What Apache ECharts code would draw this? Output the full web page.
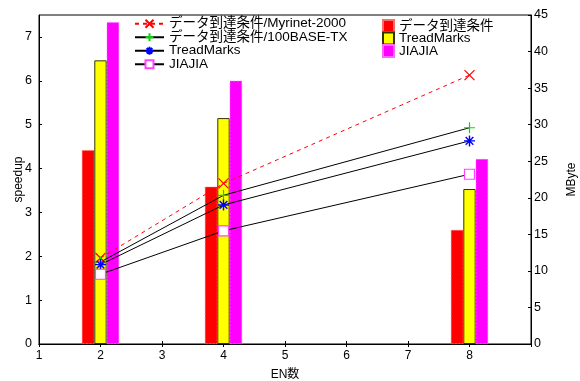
<!DOCTYPE html>
<html>
<head>
<meta charset="utf-8">
<script src="https://cdn.jsdelivr.net/npm/echarts@6/dist/echarts.min.js"></script>
<style>html,body{margin:0;padding:0;background:#fff;}#c{width:580px;height:381px;}</style>
</head>
<body>
<div id="c"></div>
<script>
const xTicks = [1, 2, 3, 4, 5, 6, 7, 8];
const enCounts = [2, 4, 8];
// MByte (right axis) bars
const dataArrivalMB = [26.5, 21.5, 15.6];
const treadMarksMB = [38.8, 30.9, 21.2];
const jiajiaMB = [44.0, 36.0, 25.3];
// speedup (left axis) lines
const myrinetSpeed = [1.96, 3.66, 6.13];
const base100Speed = [1.87, 3.39, 4.93];
const treadMarksSpeed = [1.81, 3.17, 4.63];
const jiajiaSpeed = [1.59, 2.58, 3.87];

const barNames = ['データ到達条件', 'TreadMarks', 'JIAJIA'];
const lineLabels = ['データ到達条件/Myrinet-2000', 'データ到達条件/100BASE-TX', 'TreadMarks', 'JIAJIA'];
const lineIds = ['line-myrinet', 'line-100base', 'line-treadmarks', 'line-jiajia'];

const FONT = "'Liberation Sans', Arial, 'Noto Sans CJK JP', sans-serif";
const pair = (vals) => enCounts.map((x, i) => [x, vals[i]]);

const X_SYM = 'path://M0,0L10,10M10,0L0,10';
const PLUS_SYM = 'path://M5,0L5,10M0,5L10,5';
const STAR_SYM = 'path://M5,0L5,10M0,5L10,5M1.5,1.5L8.5,8.5M8.5,1.5L1.5,8.5';

const chart = echarts.init(document.getElementById('c'), null, {renderer: 'canvas'});
const option = {
  animation: false,
  textStyle: {fontFamily: FONT},
  grid: {left: 39, right: 49, top: 15, bottom: 37, show: true, borderColor: '#000', borderWidth: 1,
         containLabel: false, outerBoundsMode: 'none'},
  legend: [
    {
      data: lineIds.map(n => ({name: n})),
      formatter: (n) => lineLabels[lineIds.indexOf(n)],
      orient: 'vertical', left: 134, top: 17,
      itemWidth: 29, itemHeight: 10, itemGap: 0,
      textStyle: {fontSize: 13.5, lineHeight: 13, fontFamily: FONT, color: '#000'},
      padding: 0,
      backgroundColor: '#fff'
    },
    {
      data: barNames.map(n => ({name: n, icon: 'rect'})),
      orient: 'vertical', left: 382, top: 19,
      itemWidth: 11, itemHeight: 12, itemGap: -1.5,
      textStyle: {fontSize: 13.5, lineHeight: 12, fontFamily: FONT, color: '#000'},
      padding: 0,
      selectedMode: false
    }
  ],
  xAxis: [
    {
      type: 'value', min: 1, max: 9, interval: 1,
      name: 'EN数', nameLocation: 'middle', nameGap: 25, nameMoveOverlap: false,
      nameTextStyle: {fontSize: 12, color: '#000', fontFamily: FONT},
      axisLine: {lineStyle: {color: '#000'}},
      axisTick: {inside: true, length: 3, lineStyle: {color: '#000'}},
      axisLabel: {fontSize: 12, color: '#000', margin: 6, showMaxLabel: false, fontFamily: FONT},
      splitLine: {show: false}
    },
    {
      type: 'value', min: 1, max: 9, interval: 1, position: 'top',
      axisLine: {lineStyle: {color: '#000'}},
      axisTick: {inside: true, length: 3, lineStyle: {color: '#000'}},
      axisLabel: {show: false},
      splitLine: {show: false}
    }
  ],
  yAxis: [
    {
      type: 'value', min: 0, max: 7.5, interval: 1,
      name: 'speedup', nameLocation: 'middle', nameGap: 14, nameRotate: 90, nameMoveOverlap: false,
      nameTextStyle: {fontSize: 12, color: '#000', fontFamily: FONT},
      axisLine: {show: true, lineStyle: {color: '#000'}},
      axisTick: {show: true, inside: true, length: 3, lineStyle: {color: '#000'}},
      axisLabel: {fontSize: 12.5, color: '#000', margin: 7, showMaxLabel: false, fontFamily: FONT},
      splitLine: {show: false}
    },
    {
      type: 'value', min: 0, max: 45, interval: 5, position: 'right',
      name: 'MByte', nameLocation: 'middle', nameGap: 35, nameRotate: 90, nameMoveOverlap: false,
      nameTextStyle: {fontSize: 12, color: '#000', fontFamily: FONT},
      axisLine: {show: true, lineStyle: {color: '#000'}},
      axisTick: {show: true, inside: true, length: 3, lineStyle: {color: '#000'}},
      axisLabel: {fontSize: 12.5, color: '#000', margin: 3, fontFamily: FONT},
      splitLine: {show: false}
    }
  ],
  series: [
    {
      name: barNames[0], type: 'bar', yAxisIndex: 1, barWidth: 12.4, barGap: '0%',
      data: pair(dataArrivalMB),
      itemStyle: {color: '#ff0000', borderColor: '#ff6a6a', borderWidth: 0.6, borderType: 'dashed'}
    },
    {
      name: barNames[1], type: 'bar', yAxisIndex: 1, barWidth: 12.4, barGap: '0%',
      data: pair(treadMarksMB),
      itemStyle: {color: '#ffff00', borderColor: '#333300', borderWidth: 1}
    },
    {
      name: barNames[2], type: 'bar', yAxisIndex: 1, barWidth: 12.4, barGap: '0%',
      data: pair(jiajiaMB),
      itemStyle: {color: '#ff00ff', borderColor: '#ff66ff', borderWidth: 0.6, borderType: 'dashed'}
    },
    {
      name: lineIds[0], type: 'line', yAxisIndex: 0, data: pair(myrinetSpeed),
      symbol: X_SYM, symbolSize: 10,
      lineStyle: {color: '#ff0000', width: 1, type: [4, 4]},
      itemStyle: {color: 'rgba(0,0,0,0)', borderColor: '#ff0000', borderWidth: 1.2},
      z: 5
    },
    {
      name: lineIds[1], type: 'line', yAxisIndex: 0, data: pair(base100Speed),
      symbol: PLUS_SYM, symbolSize: 11,
      lineStyle: {color: '#000', width: 1},
      itemStyle: {color: 'rgba(0,0,0,0)', borderColor: '#00dd00', borderWidth: 1.2},
      z: 5
    },
    {
      name: lineIds[2], type: 'line', yAxisIndex: 0, data: pair(treadMarksSpeed),
      symbol: STAR_SYM, symbolSize: 11,
      lineStyle: {color: '#000', width: 1},
      itemStyle: {color: 'rgba(0,0,0,0)', borderColor: '#0000ff', borderWidth: 1.4},
      z: 5
    },
    {
      name: lineIds[3], type: 'line', yAxisIndex: 0, data: pair(jiajiaSpeed),
      symbol: 'rect', symbolSize: 10,
      lineStyle: {color: '#000', width: 1},
      itemStyle: {color: '#ffffff', borderColor: '#ff44ff', borderWidth: 1.2},
      z: 5
    }
  ]
};
chart.setOption(option);
</script>
</body>
</html>
